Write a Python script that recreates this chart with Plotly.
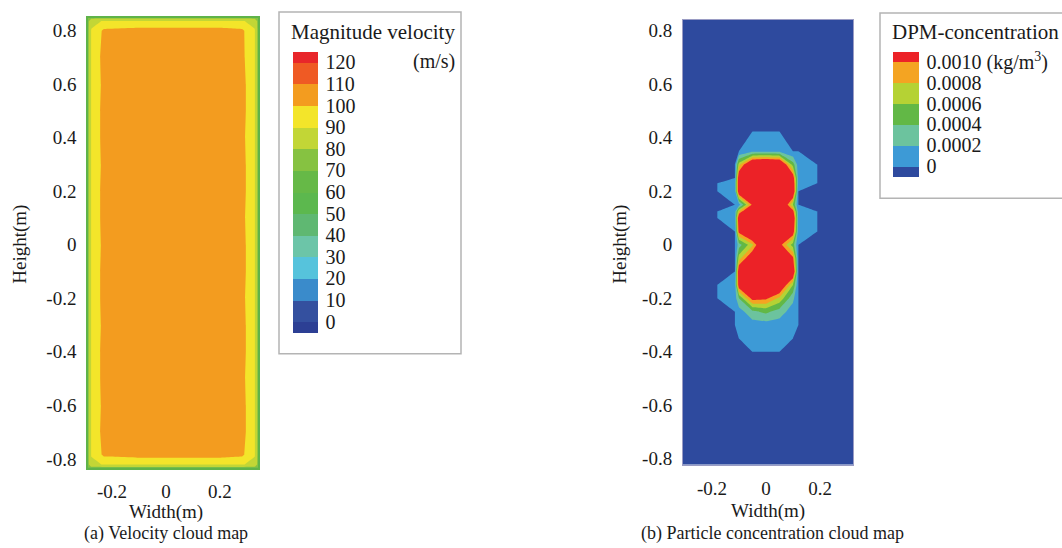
import plotly.graph_objects as go

W, H = 1062, 548
FONT = "Liberation Serif, Times New Roman, serif"
TXT = "#1a1a1a"

# ---------------- (a) velocity magnitude field, m/s ----------------
vel_x = [-0.289, -0.277, -0.230, -0.1, 0.0, 0.1, 0.2, 0.282, 0.329, 0.341]
vel_y = [-0.833, -0.821, -0.785, -0.7, -0.6, -0.5, -0.4, -0.3, -0.2, -0.1,
         0.0, 0.1, 0.2, 0.3, 0.4, 0.5, 0.6, 0.7, 0.800, 0.836, 0.848]
vel_z = [
    [77, 77, 77, 77, 77, 77, 77, 77, 77, 77],
    [77, 88, 90.5, 90.5, 90.5, 90.5, 90.5, 90.5, 88, 77],
    [77, 90.5, 102, 104, 104, 104, 104, 102, 90.5, 77],
    [77, 90.5, 104, 105, 105, 105, 105, 104, 90.5, 77],
    [77, 90.5, 103, 105, 105, 105, 105, 104, 90.5, 77],
    [77, 90.5, 104, 105, 105, 105, 105, 103, 90.5, 77],
    [77, 90.5, 104, 105, 105, 105, 105, 104, 90.5, 77],
    [77, 90.5, 103, 105, 105, 105, 105, 104, 90.5, 77],
    [77, 90.5, 104, 105, 105, 105, 105, 103, 90.5, 77],
    [77, 90.5, 104, 105, 105, 105, 105, 104, 90.5, 77],
    [77, 90.5, 103, 105, 105, 105, 105, 104, 90.5, 77],
    [77, 90.5, 104, 105, 105, 105, 105, 103, 90.5, 77],
    [77, 90.5, 104, 105, 105, 105, 105, 104, 90.5, 77],
    [77, 90.5, 103, 105, 105, 105, 105, 104, 90.5, 77],
    [77, 90.5, 104, 105, 105, 105, 105, 103, 90.5, 77],
    [77, 90.5, 104, 105, 105, 105, 105, 104, 90.5, 77],
    [77, 90.5, 103, 105, 105, 105, 105, 104, 90.5, 77],
    [77, 90.5, 104, 105, 105, 105, 105, 102.5, 90.5, 77],
    [77, 90.5, 102, 104, 104, 104, 104, 102, 90.5, 77],
    [77, 88, 90.5, 90.5, 90.5, 90.5, 90.5, 90.5, 88, 77],
    [77, 77, 77, 77, 77, 77, 77, 77, 77, 77],
]
vel_ticks = [0, 10, 20, 30, 40, 50, 60, 70, 80, 90, 100, 110, 120]
vel_ticktext = ["0", "10", "20", "30", "40", "50", "60", "70", "80", "90", "100", "110", "120"]
vel_colors = ["#2c3f94", "#34509f", "#3a8bcb", "#56c3dc", "#6cc5a8", "#5fb872", "#5cb84e",
              "#66b947", "#86c241", "#c2d636", "#f3e52a", "#f39c1f", "#ef5a24", "#e8262a"]

# ---------------- (b) DPM concentration field, 1e-4 kg/m^3 ----------------
conc_x = [-0.307, -0.18, -0.115, -0.1, -0.05, 0.0, 0.05, 0.1, 0.12, 0.19, 0.322]
conc_y = [-0.822, -0.40, -0.35, -0.30, -0.25, -0.20, -0.15, -0.10, -0.05, 0.0,
          0.05, 0.10, 0.125, 0.15, 0.20, 0.23, 0.25, 0.30, 0.35, 0.424, 0.841]
conc_z = [
    [0, 0, 0, 0, 0, 0, 0, 0, 0, 0, 0],
    [0, 0, 0, 0, 0, 0, 0, 0, 0, 0, 0],
    [0, 0, 0, 0, 1, 1, 1, 0, 0, 0, 0],
    [0, 0, 0, 1, 1, 1, 1, 1, 0, 0, 0],
    [0, 0, 0, 1, 3.5, 4.5, 3, 1, 0, 0, 0],
    [0, 0, 1, 4, 11, 10.5, 7.5, 2.5, 0, 0, 0],
    [0, 0, 1, 12, 16, 16, 14, 6, 0, 0, 0],
    [0, 0, 0, 13, 16, 16, 16, 14, 0, 0, 0],
    [0, 0, 0, 7, 13, 16, 16, 10.5, 0, 0, 0],
    [0, 0, 0, 3, 7.5, 16, 11, 5, 0, 0, 0],
    [0, 0, 0, 11, 16, 16, 16, 12, 1, 0, 0],
    [0, 0, 1, 13, 16, 16, 16, 14, 1, 0, 0],
    [0, 0, 1, 8, 16, 16, 16, 11, 1, 0, 0],
    [0, 0, 0, 1, 10.5, 16, 16, 6, 0, 0, 0],
    [0, 0, 1, 13, 16, 16, 16, 14, 0, 0, 0],
    [0, 0, 1, 13, 16, 16, 16, 13, 1, 0, 0],
    [0, 0, 0, 13, 16, 16, 16, 12, 1, 0, 0],
    [0, 0, 0, 7, 15, 16, 15, 5, 1, 0, 0],
    [0, 0, 0, 0, 1.5, 1.5, 1.5, 0, 0, 0, 0],
    [0, 0, 0, 0, 0, 0, 0, 0, 0, 0, 0],
    [0, 0, 0, 0, 0, 0, 0, 0, 0, 0, 0],
]
conc_ticks = [0, 2, 4, 6, 8, 10]
conc_ticktext = ["0", "0.0002", "0.0004", "0.0006", "0.0008", "0.0010 (kg/m<sup>3</sup>)"]
conc_colors = ["#2e4a9e", "#3d9ad6", "#6cc39e", "#62b846", "#b5d234", "#f4a422", "#ec2227"]

# axis tick labels
y_ticks = [0.8, 0.6, 0.4, 0.2, 0.0, -0.2, -0.4, -0.6, -0.8]
y_ticktext = ["0.8", "0.6", "0.4", "0.2", "0", "-0.2", "-0.4", "-0.6", "-0.8"]
x_ticks = [-0.2, 0.0, 0.2]
x_ticktext = ["-0.2", "0", "0.2"]


def scale(colors):
    n = len(colors) - 1
    return [[i / n, c] for i, c in enumerate(colors)]


def px_x(p):
    return p / W


def px_y(p):
    return 1 - p / H


tick_font = dict(family=FONT, size=19, color=TXT)
cb_font = dict(family=FONT, size=20, color=TXT)

fig = go.Figure()

fig.add_trace(go.Contour(
    x=vel_x, y=vel_y, z=vel_z, xaxis="x", yaxis="y",
    autocontour=False,
    contours=dict(start=0, end=120, size=10, coloring="fill", showlines=False),
    line=dict(width=0, smoothing=0),
    colorscale=scale(vel_colors), hoverinfo="skip",
    colorbar=dict(
        thickness=25, thicknessmode="pixels", len=281, lenmode="pixels",
        x=px_x(293), xanchor="left", xpad=0, y=px_y(52), yanchor="top", ypad=0,
        tickmode="array", tickvals=vel_ticks, ticktext=vel_ticktext,
        ticks="outside", ticklen=4, tickcolor="rgba(0,0,0,0)",
        tickfont=cb_font, outlinewidth=0,
    ),
))

fig.add_trace(go.Contour(
    x=conc_x, y=conc_y, z=conc_z, xaxis="x2", yaxis="y2",
    autocontour=False,
    contours=dict(start=0, end=10, size=2, coloring="fill", showlines=False),
    line=dict(width=0, smoothing=0),
    colorscale=scale(conc_colors), hoverinfo="skip",
    colorbar=dict(
        thickness=26, thicknessmode="pixels", len=125, lenmode="pixels",
        x=px_x(893), xanchor="left", xpad=0, y=px_y(52), yanchor="top", ypad=0,
        tickmode="array", tickvals=conc_ticks, ticktext=conc_ticktext,
        ticks="outside", ticklen=4, tickcolor="rgba(0,0,0,0)",
        tickfont=cb_font, outlinewidth=0,
    ),
))

axis_common = dict(showgrid=False, zeroline=False, ticks="", ticklabelstandoff=6,
                   tickfont=tick_font, tickmode="array")

fig.update_layout(
    width=W, height=H, margin=dict(l=0, r=0, t=0, b=0),
    font=dict(family=FONT, size=19, color=TXT),
    paper_bgcolor="white", plot_bgcolor="white", showlegend=False,
    xaxis=dict(domain=[px_x(88), px_x(258)], range=[-0.289, 0.341], anchor="y",
               tickvals=x_ticks, ticktext=x_ticktext, showline=True, mirror=True,
               linecolor="#5fb34a", linewidth=1.5, **axis_common),
    yaxis=dict(domain=[px_y(472), px_y(18)], range=[-0.833, 0.848], anchor="x",
               tickvals=y_ticks, ticktext=y_ticktext, showline=True, mirror=True,
               linecolor="#5fb34a", linewidth=1.5, **axis_common),
    xaxis2=dict(domain=[px_x(683), px_x(853)], range=[-0.307, 0.322], anchor="y2",
                tickvals=x_ticks, ticktext=x_ticktext, showline=True, mirror=True,
                linecolor="#9a9cc4", linewidth=1, **axis_common),
    yaxis2=dict(domain=[px_y(469), px_y(20)], range=[-0.822, 0.841], anchor="x2",
                tickvals=y_ticks, ticktext=y_ticktext, showline=True, mirror=True,
                linecolor="#9a9cc4", linewidth=1, **axis_common),
)

# legend frames
fig.add_shape(type="rect", xref="paper", yref="paper", x0=px_x(279), x1=px_x(461),
              y0=px_y(357), y1=px_y(12), line=dict(color="#b4b4b4", width=1.5), layer="below")
fig.add_shape(type="rect", xref="paper", yref="paper", x0=px_x(880), x1=px_x(1075),
              y0=px_y(200), y1=px_y(13), line=dict(color="#b4b4b4", width=1.5), layer="below")


def note(text, x, y, size=19, angle=0, xanchor="center"):
    fig.add_annotation(text=text, xref="paper", yref="paper", x=px_x(x), y=px_y(y),
                       xanchor=xanchor, yanchor="middle", showarrow=False, textangle=angle,
                       font=dict(family=FONT, size=size, color=TXT))


note("Magnitude velocity", 289, 32, size=21, xanchor="left")
note("(m/s)", 457, 62, size=20, xanchor="right")
note("DPM-concentration", 890, 32, size=21, xanchor="left")
note("Height(m)", 20, 247, angle=-90)
note("Height(m)", 620, 247, angle=-90)
note("Width(m)", 166, 517)
note("Width(m)", 768, 516)
note("(a) Velocity cloud map", 166, 538, size=18)
note("(b) Particle concentration cloud map", 772, 538, size=18)

fig.write_html("out.html")
